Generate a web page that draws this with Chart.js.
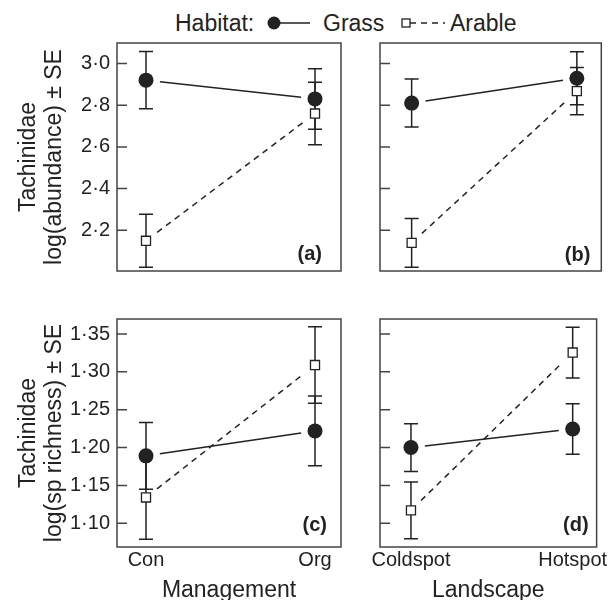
<!DOCTYPE html>
<html>
<head>
<meta charset="utf-8">
<script src="https://cdn.jsdelivr.net/npm/chart.js@4.4.0/dist/chart.umd.min.js"></script>
<style>
  body { margin: 0; background: #fff; }
  #wrap { position: relative; width: 609px; height: 600px; font-family: "Liberation Sans", Arial, sans-serif; }
  #wrap canvas, #wrap svg { position: absolute; }
</style>
</head>
<body>
<div id="wrap">
  <svg width="609" height="42" style="left:0;top:0" font-family="Liberation Sans, Arial, sans-serif" font-size="23" fill="#222">
    <text x="175" y="31">Habitat:</text>
    <line x1="274" y1="23" x2="310" y2="23" stroke="#222" stroke-width="1.5"/>
    <circle cx="274" cy="23" r="6.5" fill="#222"/>
    <text x="323" y="31">Grass</text>
    <line x1="410" y1="23" x2="445" y2="23" stroke="#222" stroke-width="1.5" stroke-dasharray="6 5"/>
    <rect x="402" y="19" width="8" height="8" fill="#fff" stroke="#222" stroke-width="1.3"/>
    <text x="450" y="31">Arable</text>
  </svg>
  <canvas id="chartA" width="350" height="290" style="left:0;top:0"></canvas>
  <canvas id="chartB" width="259" height="290" style="left:350px;top:0"></canvas>
  <canvas id="chartC" width="350" height="300" style="left:0;top:300px"></canvas>
  <canvas id="chartD" width="259" height="300" style="left:350px;top:300px"></canvas>
</div>
<script>
// categories and tick labels
const management = ["Con", "Org"];
const landscape = ["Coldspot", "Hotspot"];
const abundanceTicks = [2.2, 2.4, 2.6, 2.8, 3.0];
const richnessTicks = [1.10, 1.15, 1.20, 1.25, 1.30, 1.35];

// (a) abundance by management
const abundMgmtGrass = [2.92, 2.83];
const abundMgmtGrassSE = [0.137, 0.145];
const abundMgmtArable = [2.15, 2.76];
const abundMgmtArableSE = [0.127, 0.15];

// (b) abundance by landscape
const abundLandGrass = [2.81, 2.929];
const abundLandGrassSE = [0.115, 0.127];
const abundLandArable = [2.14, 2.867];
const abundLandArableSE = [0.117, 0.113];

// (c) species richness by management
const richMgmtGrass = [1.189, 1.222];
const richMgmtGrassSE = [0.044, 0.046];
const richMgmtArable = [1.134, 1.309];
const richMgmtArableSE = [0.055, 0.0505];

// (d) species richness by landscape
const richLandGrass = [1.20, 1.2245];
const richLandGrassSE = [0.0315, 0.0335];
const richLandArable = [1.117, 1.3255];
const richLandArableSE = [0.0375, 0.0335];

const ink = "#222";
const frameInk = "#444";
Chart.defaults.font.family = "'Liberation Sans', Arial, sans-serif";
Chart.defaults.color = ink;

// error bars, gapped connecting lines, frame, inward ticks, panel letter
const panelDecor = {
  id: "panelDecor",
  beforeDatasetsDraw(chart) {
    const { ctx, scales: { x, y } } = chart;
    ctx.save();
    ctx.strokeStyle = ink;
    ctx.lineWidth = 1.5;
    chart.data.datasets.forEach(ds => {
      const pts = ds.data.map(d => ({
        px: x.getPixelForValue(d.x),
        py: y.getPixelForValue(d.y),
        lo: y.getPixelForValue(d.y - d.se),
        hi: y.getPixelForValue(d.y + d.se)
      }));
      ctx.setLineDash([]);
      pts.forEach(p => {
        ctx.beginPath();
        ctx.moveTo(p.px, p.lo); ctx.lineTo(p.px, p.hi);
        ctx.moveTo(p.px - 7, p.lo); ctx.lineTo(p.px + 7, p.lo);
        ctx.moveTo(p.px - 7, p.hi); ctx.lineTo(p.px + 7, p.hi);
        ctx.stroke();
      });
      const a = pts[0], b = pts[1];
      const len = Math.hypot(b.px - a.px, b.py - a.py);
      const ux = (b.px - a.px) / len, uy = (b.py - a.py) / len;
      const gap = 14;
      ctx.setLineDash(ds.dash || []);
      ctx.beginPath();
      ctx.moveTo(a.px + ux * gap, a.py + uy * gap);
      ctx.lineTo(b.px - ux * gap, b.py - uy * gap);
      ctx.stroke();
    });
    ctx.restore();
  },
  afterDraw(chart, args, opts) {
    const { ctx, chartArea: area, scales: { y } } = chart;
    ctx.save();
    ctx.strokeStyle = frameInk;
    ctx.lineWidth = 1.5;
    ctx.strokeRect(area.left, area.top, area.right - area.left, area.bottom - area.top);
    ctx.beginPath();
    y.ticks.forEach(t => {
      const py = y.getPixelForValue(t.value);
      ctx.moveTo(area.left, py);
      ctx.lineTo(area.left + 10, py);
    });
    ctx.stroke();
    ctx.fillStyle = ink;
    ctx.font = "bold 20px 'Liberation Sans', Arial, sans-serif";
    ctx.textAlign = "right";
    ctx.textBaseline = "alphabetic";
    ctx.fillText(opts.letter, area.right - opts.letterDx, area.bottom - opts.letterDy);
    ctx.restore();
  }
};

function makePanel(id, p) {
  const fmt = v => v.toFixed(p.digits).replace(".", "\u00B7");
  new Chart(document.getElementById(id), {
    type: "scatter",
    data: {
      datasets: [
        {
          label: "Grass",
          data: p.grass.map((v, i) => ({ x: i, y: v, se: p.grassSE[i] })),
          pointStyle: "circle",
          pointRadius: 7.5,
          backgroundColor: ink,
          borderColor: ink,
          borderWidth: 0
        },
        {
          label: "Arable",
          data: p.arable.map((v, i) => ({ x: i, y: v, se: p.arableSE[i] })),
          dash: [6, 5],
          pointStyle: "rect",
          pointRadius: 6.4,
          backgroundColor: "#fff",
          borderColor: ink,
          borderWidth: 1.3
        }
      ]
    },
    options: {
      responsive: false,
      animation: false,
      events: [],
      layout: { padding: p.padding },
      plugins: {
        legend: { display: false },
        tooltip: { enabled: false },
        panelDecor: { letter: p.letter, letterDx: p.letterDx, letterDy: p.letterDy }
      },
      scales: {
        x: {
          type: "linear",
          min: p.xMin,
          max: p.xMax,
          display: p.showX,
          afterFit: s => { s.height = p.showX ? 53 : 0; },
          afterBuildTicks: s => { s.ticks = p.cats.map((c, i) => ({ value: i })); },
          grid: { display: false, drawTicks: false },
          border: { display: false },
          ticks: {
            autoSkip: false,
            maxRotation: 0,
            padding: 1,
            font: { size: 20 },
            callback: (v, i) => p.cats[i]
          },
          title: {
            display: p.showX,
            text: p.xTitle,
            font: { size: 23 },
            padding: { top: 0, bottom: -4 }
          }
        },
        y: {
          min: p.yMin,
          max: p.yMax,
          afterFit: s => { s.width = p.yWidth; },
          afterBuildTicks: s => { s.ticks = p.yTicks.map(v => ({ value: v })); },
          grid: { display: false, drawTicks: false },
          border: { display: false },
          ticks: {
            padding: 7,
            font: { size: 20 },
            callback: v => (p.yLabels ? fmt(v) : "")
          },
          title: {
            display: !!p.yTitle,
            text: p.yTitle,
            font: { size: 23, lineHeight: 1.13 },
            padding: { top: 16, bottom: 0 }
          }
        }
      }
    },
    plugins: [panelDecor]
  });
}

const abundRange = { yMin: 2.005, yMax: 3.098, yTicks: abundanceTicks, digits: 1 };
const richRange = { yMin: 1.0686, yMax: 1.3698, yTicks: richnessTicks, digits: 2 };
const leftCol = { xMin: -0.1716, xMax: 1.1538, yWidth: 117, yLabels: true };
const rightCol = { xMin: -0.1915, xMax: 1.148, yWidth: 30, yLabels: false };

makePanel("chartA", Object.assign({}, abundRange, leftCol, {
  cats: management, grass: abundMgmtGrass, grassSE: abundMgmtGrassSE,
  arable: abundMgmtArable, arableSE: abundMgmtArableSE,
  yTitle: ["Tachinidae", "log(abundance) \u00B1 SE"], showX: false,
  padding: { top: 43, right: 9, bottom: 17, left: 0 },
  letter: "(a)", letterDx: 19, letterDy: 11
}));

makePanel("chartB", Object.assign({}, abundRange, rightCol, {
  cats: landscape, grass: abundLandGrass, grassSE: abundLandGrassSE,
  arable: abundLandArable, arableSE: abundLandArableSE,
  yTitle: null, showX: false,
  padding: { top: 43, right: 3, bottom: 17, left: 0 },
  letter: "(b)", letterDx: 11, letterDy: 10
}));

makePanel("chartC", Object.assign({}, richRange, leftCol, {
  cats: management, grass: richMgmtGrass, grassSE: richMgmtGrassSE,
  arable: richMgmtArable, arableSE: richMgmtArableSE,
  yTitle: ["Tachinidae", "log(sp richness) \u00B1 SE"], showX: true, xTitle: "Management",
  padding: { top: 12, right: 9, bottom: 0, left: 0 },
  letter: "(c)", letterDx: 14, letterDy: 16
}));

makePanel("chartD", Object.assign({}, richRange, rightCol, {
  cats: landscape, grass: richLandGrass, grassSE: richLandGrassSE,
  arable: richLandArable, arableSE: richLandArableSE,
  yTitle: null, showX: true, xTitle: "Landscape",
  padding: { top: 12, right: 3, bottom: 0, left: 0 },
  letter: "(d)", letterDx: 8, letterDy: 16
}));
</script>
</body>
</html>
